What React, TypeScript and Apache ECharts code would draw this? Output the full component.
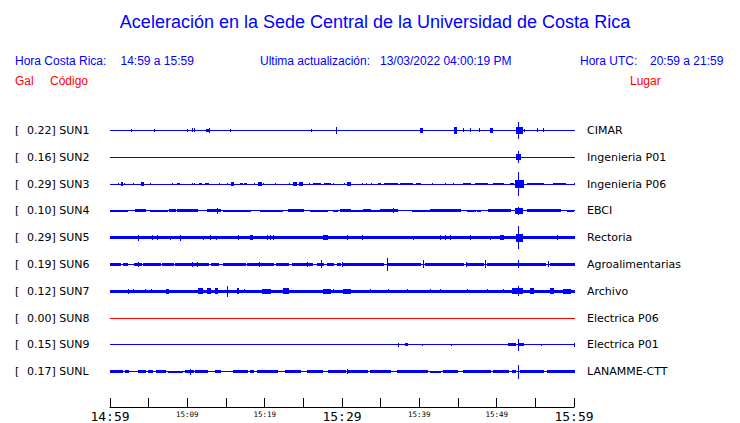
import React, { useEffect, useRef } from "react";
import * as echarts from "echarts";

// ---- data ----
const CODES = ["SUN1", "SUN2", "SUN3", "SUN4", "SUN5", "SUN6", "SUN7", "SUN8", "SUN9", "SUNL"];
const PEAKS = [0.22, 0.16, 0.29, 0.1, 0.29, 0.19, 0.12, 0.0, 0.15, 0.17];
const PLACES = [
  "CIMAR", "Ingenieria P01", "Ingenieria P06", "EBCI", "Rectoria",
  "Agroalimentarias", "Archivo", "Electrica P06", "Electrica P01", "LANAMME-CTT",
];
const TIME_LABELS = ["14:59", "15:09", "15:19", "15:29", "15:39", "15:49", "15:59"];
const MAJOR_LABELS = ["14:59", "15:29", "15:59"];
const WINDOW_MIN = 0;
const WINDOW_MAX = 60;
// continuous background noise band (relative amplitude) per station
const NOISE_BAND = [0, 0, 0, 0, 0.14, 0, 0.14, 0, 0, 0];

// bursts / spikes: [startMinute, endMinute, relativeAmplitude]
const sun1 = [
  [2.72, 2.72, 0.12], [5.73, 5.73, 0.12], [10.0, 10.0, 0.1], [10.64, 10.64, 0.17], [10.9, 10.9, 0.17],
  [12.41, 12.84, 0.14], [12.84, 12.84, 0.22], [15.52, 15.52, 0.1], [25.99, 25.99, 0.1], [29.26, 29.26, 0.3],
  [40.12, 40.34, 0.2], [44.52, 44.74, 0.27], [45.69, 45.69, 0.17], [46.59, 46.59, 0.17], [47.75, 47.75, 0.17],
  [49.18, 49.44, 0.2], [52.46, 53.24, 0.3], [52.72, 52.72, 0.7], [53.57, 53.57, 0.12], [55.26, 55.26, 0.17],
  [56.03, 56.03, 0.17],
];
const sun2 = [[52.5, 53.0, 0.25], [52.72, 52.72, 0.52]];
const sun3 = [
  [1.07, 1.07, 0.12], [1.38, 1.5, 0.14], [1.85, 1.85, 0.12], [3.01, 3.01, 0.1], [3.97, 4.23, 0.14],
  [5.17, 5.17, 0.12], [8.06, 8.06, 0.1], [8.7, 8.92, 0.1], [10.64, 10.64, 0.12], [10.9, 10.9, 0.1],
  [11.47, 11.73, 0.1], [12.32, 12.71, 0.12], [14.13, 14.13, 0.12], [15.09, 15.09, 0.1], [15.65, 15.87, 0.14],
  [16.85, 17.03, 0.12], [17.37, 17.55, 0.1], [18.58, 18.58, 0.12], [19.14, 19.49, 0.14], [19.78, 19.78, 0.1],
  [21.3, 21.3, 0.12], [23.19, 23.19, 0.12], [23.7, 24.05, 0.14], [24.48, 24.83, 0.14], [25.77, 25.77, 0.1],
  [26.29, 27.15, 0.1], [27.67, 28.45, 0.1], [28.87, 28.87, 0.1], [30.3, 30.3, 0.12], [30.65, 31.03, 0.17],
  [32.55, 32.55, 0.1], [33.1, 33.1, 0.1], [33.75, 33.75, 0.1], [34.69, 34.91, 0.1], [35.43, 37.07, 0.09],
  [37.5, 39.01, 0.09], [39.57, 40.08, 0.12], [41.6, 41.6, 0.12], [43.32, 43.32, 0.1], [44.39, 44.39, 0.12],
  [45.6, 46.55, 0.1], [47.23, 48.71, 0.1], [49.56, 50.85, 0.09], [51.72, 52.07, 0.1], [52.4, 53.44, 0.3],
  [52.72, 52.72, 1.0], [53.88, 56.03, 0.1], [57.32, 58.83, 0.1], [60.0, 60.0, 0.1],
];
const sun4 = [
  [0, 2.16, 0.1], [3.23, 4.53, 0.12], [5.17, 7.33, 0.09], [7.63, 8.4, 0.12], [8.62, 11.21, 0.12],
  [12.5, 14.22, 0.13], [13.87, 13.87, 0.25], [14.61, 18.1, 0.09], [19.4, 22.2, 0.1], [23.05, 25.0, 0.12],
  [25.86, 28.02, 0.1], [28.83, 29.31, 0.1], [29.74, 31.03, 0.13], [31.03, 32.71, 0.09], [32.75, 33.62, 0.13],
  [33.62, 34.91, 0.09], [34.91, 37.07, 0.12], [36.54, 36.54, 0.22], [39.0, 41.37, 0.09], [41.37, 45.25, 0.13],
  [46.12, 47.19, 0.1], [47.41, 47.84, 0.1], [48.91, 51.72, 0.13], [52.37, 53.23, 0.25], [52.72, 52.72, 0.34],
  [53.88, 58.19, 0.11], [59.05, 59.91, 0.1],
];
const sun5 = [
  [3.58, 3.58, 0.25], [5.47, 5.47, 0.2], [6.04, 6.04, 0.2], [7.76, 7.76, 0.17], [9.05, 9.05, 0.25],
  [12.06, 12.06, 0.17], [12.93, 12.93, 0.2], [13.71, 13.71, 0.17], [16.59, 16.59, 0.2], [18.1, 18.4, 0.2],
  [20.26, 20.26, 0.2], [20.69, 20.69, 0.2], [21.12, 21.12, 0.2], [27.58, 28.1, 0.2], [30.6, 30.6, 0.2],
  [32.55, 32.55, 0.2], [39.22, 39.22, 0.17], [42.67, 42.67, 0.2], [43.32, 43.32, 0.2], [43.96, 43.96, 0.2],
  [46.55, 46.55, 0.2], [49.14, 49.14, 0.17], [50.43, 50.85, 0.2], [52.5, 53.23, 0.33], [52.72, 52.72, 1.0],
  [57.76, 57.76, 0.2],
];
const sun6 = [
  [0, 1.29, 0.14], [1.72, 2.24, 0.14], [3.1, 3.97, 0.14], [4.23, 6.47, 0.14], [6.69, 6.98, 0.14],
  [7.11, 8.11, 0.14], [8.4, 12.71, 0.14], [13.02, 14.0, 0.14], [14.65, 17.46, 0.14], [17.75, 21.12, 0.14],
  [21.46, 23.05, 0.14], [23.49, 24.79, 0.14], [25.0, 26.08, 0.14], [26.73, 27.58, 0.14], [28.02, 28.87, 0.14],
  [29.31, 29.74, 0.14], [30.04, 35.34, 0.14], [35.99, 40.08, 0.14], [40.73, 45.68, 0.14], [46.12, 48.27, 0.14],
  [48.71, 52.59, 0.14], [52.8, 56.25, 0.14], [56.9, 60.0, 0.14],
  [3.66, 3.66, 0.2], [10.56, 10.56, 0.2], [11.29, 11.29, 0.2], [19.23, 19.23, 0.2], [25.43, 25.43, 0.2],
  [27.24, 27.24, 0.33], [30.06, 30.06, 0.2], [35.86, 35.86, 0.55], [40.51, 40.51, 0.33], [46.0, 46.0, 0.2],
  [48.49, 48.49, 0.33], [52.72, 52.72, 0.33], [56.64, 56.64, 0.25],
];
const sun7 = [
  [2.29, 2.29, 0.2], [3.01, 3.01, 0.17], [4.53, 4.53, 0.17], [5.3, 5.3, 0.17], [7.24, 7.54, 0.2],
  [11.34, 11.93, 0.25], [12.5, 12.93, 0.25], [13.58, 13.8, 0.25], [15.19, 15.19, 0.45], [16.38, 16.59, 0.25],
  [17.33, 17.33, 0.17], [19.69, 20.69, 0.2], [22.41, 23.05, 0.25], [27.58, 28.45, 0.2], [28.87, 28.87, 0.17],
  [30.17, 31.03, 0.2], [33.62, 33.62, 0.17], [35.99, 35.99, 0.17], [38.36, 38.36, 0.17], [41.37, 41.37, 0.17],
  [42.67, 42.67, 0.17], [46.12, 46.12, 0.17], [48.71, 48.71, 0.17], [50.85, 50.85, 0.17], [51.94, 53.23, 0.25],
  [52.72, 52.72, 0.42], [54.3, 54.74, 0.25], [56.9, 57.32, 0.25], [58.62, 59.48, 0.2],
];
const sun8: number[][] = [];
const sun9 = [
  [37.28, 37.28, 0.17], [38.14, 38.36, 0.12], [40.38, 40.38, 0.08], [44.13, 44.13, 0.08], [51.5, 52.41, 0.14],
  [52.72, 52.72, 0.52], [52.8, 53.44, 0.14], [55.77, 55.77, 0.08], [60.0, 60.0, 0.17],
];
const sunL = [
  [0, 0.87, 0.11], [1.07, 1.51, 0.1], [1.94, 2.37, 0.1], [3.66, 4.53, 0.11], [4.87, 5.39, 0.1],
  [5.95, 7.11, 0.11], [7.54, 9.27, 0.09], [9.7, 10.77, 0.13], [10.34, 10.34, 0.25], [10.99, 12.5, 0.11],
  [13.58, 14.22, 0.1], [15.94, 17.68, 0.1], [18.1, 18.53, 0.1], [18.97, 21.55, 0.11], [22.63, 24.57, 0.1],
  [25.43, 27.37, 0.11], [28.23, 30.39, 0.11], [30.6, 30.6, 0.2], [30.6, 33.19, 0.1], [33.62, 36.21, 0.1],
  [37.07, 40.95, 0.1], [41.37, 42.67, 0.09], [43.1, 44.83, 0.1], [45.68, 49.13, 0.1], [49.56, 51.5, 0.1],
  [51.94, 52.37, 0.13], [52.72, 52.72, 0.58], [53.01, 56.03, 0.1], [56.47, 60.0, 0.1],
];
const TRACES = [sun1, sun2, sun3, sun4, sun5, sun6, sun7, sun8, sun9, sunL];

// ---- styles ----
const BLUE = "#0000ff";
const RED = "#ff0000";
const AMP_SCALE = 0.444; // fraction of row height for amplitude 1.0
const HEAD_FONT = "Liberation Sans";
const LABEL_FONT = "DejaVu Sans";

function makeRenderItem(color: string) {
  return (params: any, api: any) => {
    const t0 = api.value(0);
    const t1 = api.value(1);
    const a = api.value(2);
    const row = api.value(3);
    const p0 = api.coord([t0, row]);
    const p1 = api.coord([t1, row]);
    const band = api.size([0, 1])[1];
    const h = Math.max(a * band * AMP_SCALE, 0.5);
    const x0 = Math.round(p0[0]);
    const x1 = Math.round(p1[0]) + 1;
    const y0 = Math.round(p0[1] - h);
    const y1 = Math.max(Math.round(p0[1] + h), y0 + 1);
    return {
      type: "rect",
      shape: { x: x0, y: y0, width: Math.max(x1 - x0, 1), height: y1 - y0 },
      style: { fill: color },
    };
  };
}

export default function App() {
  const ref = useRef<HTMLDivElement>(null);
  useEffect(() => {
    if (!ref.current) return;
    const chart = echarts.init(ref.current, undefined, { renderer: "svg" });

    const series = CODES.map((code, i) => {
      const color = PEAKS[i] === 0 ? RED : BLUE;
      const data: number[][] = [[WINDOW_MIN, WINDOW_MAX, 0, i]];
      if (NOISE_BAND[i] > 0) data.push([WINDOW_MIN, WINDOW_MAX, NOISE_BAND[i], i]);
      TRACES[i].forEach((s) => data.push([s[0], s[1], s[2], i]));
      return {
        type: "custom",
        name: code,
        xAxisIndex: 0,
        yAxisIndex: 0,
        renderItem: makeRenderItem(color),
        encode: { x: [0, 1], y: 3 },
        data,
        clip: false,
        silent: true,
      };
    });

    const headText = (x: number, y: number, text: string, fill: string, size = 12, align = "left") => ({
      type: "text",
      x,
      y,
      style: {
        text,
        fill,
        fontSize: size,
        fontFamily: HEAD_FONT,
        textAlign: align,
        textVerticalAlign: "middle",
      },
    });

    chart.setOption({
      animation: false,
      backgroundColor: "#ffffff",
      grid: { left: 110, top: 117, width: 464, height: 270, containLabel: false },
      xAxis: {
        type: "value",
        min: WINDOW_MIN,
        max: WINDOW_MAX,
        interval: 5,
        position: "bottom",
        offset: 22,
        axisLine: { show: true, lineStyle: { color: "#000", width: 1 } },
        axisTick: { show: true, inside: true, length: 9, lineStyle: { color: "#000" } },
        splitLine: { show: false },
        axisLabel: {
          margin: 3,
          showMinLabel: true,
          showMaxLabel: true,
          formatter: (v: number) => {
            if (Math.round(v) % 10 !== 0) return "";
            const lab = TIME_LABELS[Math.round(v / 10)];
            if (!lab) return "";
            return MAJOR_LABELS.includes(lab) ? `{big|${lab}}` : `{small|${lab}}`;
          },
          rich: {
            big: { fontFamily: "DejaVu Sans Mono", fontSize: 13, color: "#000" },
            small: { fontFamily: "DejaVu Sans Mono", fontSize: 7.5, color: "#000" },
          },
        },
      },
      yAxis: [
        {
          type: "category",
          data: CODES,
          inverse: true,
          axisLine: { show: false },
          axisTick: { show: false },
          splitLine: { show: false },
          axisLabel: {
            align: "left",
            margin: 95,
            color: "#000",
            fontFamily: LABEL_FONT,
            fontSize: 11,
            formatter: (value: string, idx: number) =>
              `{b|[}{v|${PEAKS[idx].toFixed(2)}] ${value}}`,
            rich: {
              b: { width: 12, fontFamily: LABEL_FONT, fontSize: 11, color: "#000" },
              v: { fontFamily: LABEL_FONT, fontSize: 11, color: "#000" },
            },
          },
        },
        {
          type: "category",
          data: PLACES,
          inverse: true,
          position: "right",
          axisLine: { show: false },
          axisTick: { show: false },
          splitLine: { show: false },
          axisLabel: { margin: 13, color: "#000", fontFamily: LABEL_FONT, fontSize: 11 },
        },
      ],
      graphic: [
        headText(375, 22, "Aceleración en la Sede Central de la Universidad de Costa Rica", BLUE, 18, "center"),
        headText(15, 61, "Hora Costa Rica:", BLUE),
        headText(120.5, 61, "14:59 a 15:59", BLUE),
        headText(260, 61, "Ultima actualización:", BLUE),
        headText(380, 61, "13/03/2022 04:00:19 PM", BLUE),
        headText(580, 61, "Hora UTC:", BLUE),
        headText(650, 61, "20:59 a 21:59", BLUE),
        headText(15, 81, "Gal", RED),
        headText(50, 81, "Código", RED),
        headText(630, 81, "Lugar", RED),
      ],
      series,
    });
    return () => chart.dispose();
  }, []);

  return (
    <div
      ref={ref}
      style={{ position: "fixed", left: 0, top: 0, width: 740, height: 423, background: "#fff" }}
    />
  );
}
